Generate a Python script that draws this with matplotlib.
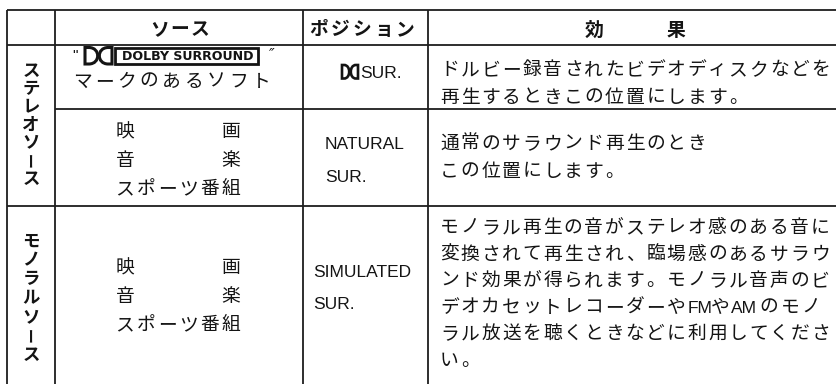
import matplotlib
matplotlib.use("Agg")
import matplotlib.pyplot as plt
from matplotlib.patches import Rectangle, PathPatch
from matplotlib.path import Path

# ---------------- data ----------------
header_labels = ["ソース", "ポジション", "効果"]
group_labels = ["ステレオソース", "モノラルソース"]
dolby_badge = "DOLBY SURROUND"
dolby_soft = "マークのあるソフト"
genre_pairs = [["映", "画"], ["音", "楽"]]
genre_last = "スポーツ番組"
position_labels = [["SUR."], ["NATURAL", "SUR."], ["SIMULATED", "SUR."]]
effect_lines = [
    ["ドルビー録音されたビデオディスクなどを", "再生するときこの位置にします。"],
    ["通常のサラウンド再生のとき", "この位置にします。"],
    ["モノラル再生の音がステレオ感のある音に",
     "変換されて再生され、臨場感のあるサラウ",
     "ンド効果が得られます。モノラル音声のビ",
     "デオカセットレコーダーやFMやAM のモノ",
     "ラル放送を聴くときなどに利用してくださ",
     "い。"],
]

# ---------------- layout ----------------
W, H = 837, 384
fig = plt.figure(figsize=(W / 100, H / 100), dpi=100)
ax = fig.add_axes([0, 0, 1, 1])
ax.set_xlim(0, W)
ax.set_ylim(H, 0)
ax.axis("off")
renderer = fig.canvas.get_renderer()

JP = ["Noto Sans CJK JP", "DejaVu Sans"]
LAT = ["Liberation Sans", "DejaVu Sans"]
INK = "#141414"
LINE = "#1e1e1e"
LW = 1.3
BODY = 13.5
LATSZ = 12.5

X_L, X_1, X_2, X_3, X_R = 7, 55, 303, 428, 837
Y_T, Y_H, Y_1, Y_2, Y_B = 10, 45, 109, 206, 384


def hline(y, x0, x1):
    ax.plot([x0, x1], [y, y], color=LINE, lw=LW, solid_capstyle="butt")


def vline(x, y0, y1):
    ax.plot([x, x], [y0, y1], color=LINE, lw=LW, solid_capstyle="butt")


for y, x0 in [(Y_T, X_L), (Y_H, X_L), (Y_1, X_1), (Y_2, X_L)]:
    hline(y, x0, X_R)
for x in [X_L, X_1, X_2, X_3]:
    vline(x, Y_T, Y_B)


def em(size):
    return size * 100 / 72


def cjk(xc, yc, ch, size=BODY, weight="normal"):
    yb = yc + 0.38 * em(size)
    ax.text(xc, yb, ch, family=JP, fontsize=size, fontweight=weight,
            ha="center", va="baseline", color=INK)


def spaced(xc0, yc, s, pitch, size=BODY, weight="normal"):
    """Draw a line of Japanese text on a fixed pitch; xc0 = first glyph centre."""
    e = em(size)
    yb = yc + 0.38 * e
    x = xc0
    i = 0
    while i < len(s):
        ch = s[i]
        if ch.isascii():
            j = i
            while j < len(s) and s[j].isascii():
                j += 1
            run = s[i:j]
            r = run.rstrip()
            left = x - 9.5
            t = ax.text(left, yb, r, family=LAT, fontsize=LATSZ,
                        ha="left", va="baseline", color=INK)
            w = t.get_window_extent(renderer).width
            x = left + w + 8 + (4 if run.endswith(" ") else 0)
            i = j
            continue
        if ch in "。、":
            ax.text(x - 9, yb, ch, family=JP, fontsize=size, fontweight=weight,
                    ha="left", va="baseline", color=INK)
        else:
            ax.text(x, yb, ch, family=JP, fontsize=size,
                    fontweight=weight, ha="center", va="baseline", color=INK)
        x += pitch
        i += 1


def latin(x, yc, s, size=LATSZ):
    yb = yc + 0.36 * em(size)
    ax.text(x, yb, s, family=LAT, fontsize=size, ha="left", va="baseline",
            color=INK)


def dolby_dd(x0, y0, w, h, lw=1.8):
    hw = w / 2 - 0.8
    a = hw * 0.3
    rx = hw - a
    k = rx * 4 / 3
    codes = [Path.MOVETO, Path.LINETO, Path.CURVE4, Path.CURVE4, Path.CURVE4,
             Path.LINETO, Path.CLOSEPOLY]
    verts = [(x0, y0), (x0 + a, y0), (x0 + a + k, y0), (x0 + a + k, y0 + h),
             (x0 + a, y0 + h), (x0, y0 + h), (x0, y0)]
    ax.add_patch(PathPatch(Path(verts, codes), fc="white", ec=INK, lw=lw))
    xr = x0 + w
    verts = [(xr, y0), (xr - a, y0), (xr - a - k, y0), (xr - a - k, y0 + h),
             (xr - a, y0 + h), (xr, y0 + h), (xr, y0)]
    ax.add_patch(PathPatch(Path(verts, codes), fc="white", ec=INK, lw=lw))


# ---------------- header ----------------
h_src, h_pos, h_eff = header_labels
HS = 13.5
spaced(160, 28, h_src, 20, size=HS, weight="bold")
spaced(319, 28, h_pos, 21.5, size=HS, weight="bold")
cjk(594, 29, h_eff[0], size=HS, weight="bold")
cjk(676, 29, h_eff[1], size=HS, weight="bold")

# ---------------- group labels (vertical) ----------------
VS = 12.5
for label, y0, pitch in [(group_labels[0], 69, 18.0), (group_labels[1], 240, 18.9)]:
    for k, ch in enumerate(label):
        yc = y0 + k * pitch
        if ch == "ー":
            ax.text(31, yc, ch, family=JP, fontsize=VS - 1.5, fontweight="bold",
                    rotation=90, ha="center", va="center", color=INK)
        else:
            cjk(31, yc, ch, size=VS, weight="bold")

# ---------------- source column ----------------
ax.text(75, 56, '"', family=LAT, fontsize=11, ha="center", va="center",
        color=INK)
dolby_dd(85, 47.5, 27, 16.5, lw=2.2)
ax.add_patch(Rectangle((115.5, 47.5), 142.5, 16.5, fc="white", ec=INK,
                       lw=2.0))
ax.text(187.5, 55.8 + 0.365 * em(9.1), dolby_badge, family=["DejaVu Sans"],
        fontsize=9.1, fontweight="bold", ha="center", va="baseline",
        color=INK)
ax.text(272, 55, "″", family=["DejaVu Sans"], fontsize=11, ha="center",
        va="center", color=INK, style="italic")
spaced(82, 79.5, dolby_soft, 22.4)

for base in [130, 266]:
    for k, (a, b) in enumerate(genre_pairs):
        cjk(125, base + k * 29, a)
        cjk(231, base + k * 29, b)
    spaced(125, base + 57, genre_last, 21.2)

# ---------------- position column ----------------
dolby_dd(342, 65, 16, 13.5, lw=1.9)
latin(360, 71.5, position_labels[0][0])
for k, s in enumerate(position_labels[1]):
    latin(325, 143 + k * 32.5, s)
for k, s in enumerate(position_labels[2]):
    latin(313, 271 + k * 32, s)

# ---------------- effect column ----------------
row_starts = [68, 142, 226]
row_gaps = [27.5, 27.5, 26.5]
for lines, y0, g in zip(effect_lines, row_starts, row_gaps):
    for k, s in enumerate(lines):
        spaced(449.5, y0 + k * g, s, 20.6)

fig.savefig("out.png", dpi=100, facecolor="white")
